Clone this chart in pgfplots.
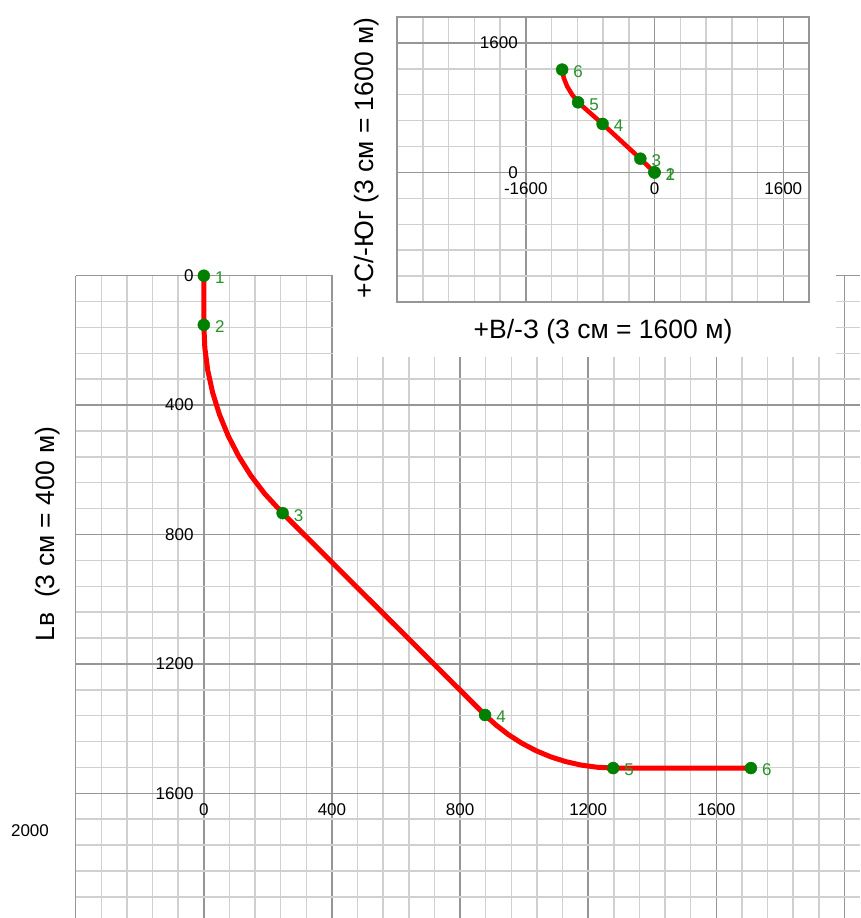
\documentclass[border=0pt]{standalone}
\usepackage{fontspec}
\setmainfont{Liberation Sans}
\usepackage{pgfplots}
\pgfplotsset{compat=1.18}
\definecolor{majgray}{RGB}{150,150,150}
\definecolor{mingray}{RGB}{208,208,208}
\definecolor{ptgreen}{RGB}{0,128,0}
\definecolor{lblgreen}{RGB}{40,145,40}
\begin{document}
\begin{tikzpicture}[x=1pt,y=1pt]
\useasboundingbox (0,0) rectangle (860,918);
% ---------------- main vertical section ----------------
\begin{axis}[
  at={(75.7pt,0pt)}, anchor=south west, scale only axis,
  width=784.3pt, height=642.3pt,
  xmin=-400, xmax=2048.6, ymin=0, ymax=1985.5, y dir=reverse,
  xtick={-400,0,400,800,1200,1600,2000}, xticklabels={,0,400,800,1200,1600,},
  minor xtick={-320,-240,-160,-80,80,160,240,320,480,560,640,720,880,960,1040,1120,1280,1360,1440,1520,1680,1760,1840,1920},
  ytick={0,400,800,1200,1600}, yticklabels={0,400,800,1200,1600},
  minor ytick={80,160,240,320,480,560,640,720,880,960,1040,1120,1280,1360,1440,1520,1680,1760,1840,1920},
  grid=both,
  major grid style={draw=majgray, line width=1.5pt},
  minor grid style={draw=mingray, line width=1.5pt},
  major tick length=0pt, minor tick length=0pt,
  axis line style={draw=none},
  tick label style={font=\fontsize{17}{20}\selectfont, inner sep=0pt},
  yticklabel style={anchor=east, xshift=118pt},
  xticklabel style={anchor=north, yshift=115pt},
  clip=false]
\addplot[draw=red, line width=5pt, line join=round] coordinates {
  (0,0) (0,152) (3.1,222.8) (12.3,293) (27.7,362.1) (49.0,429.7) (76.1,495.2)
  (108.8,558) (146.8,617.8) (190.0,674) (246,734)
  (878,1358) (911.2,1388.1) (950.7,1418.5) (992.7,1445.2) (1036.9,1468.2)
  (1082.9,1487.3) (1130.4,1502.2) (1179.1,1513.0) (1228.4,1519.5) (1278,1522)
  (1708,1522)};
\addplot[only marks, mark=*, mark size=6pt, mark options={fill=ptgreen, draw=ptgreen},
  nodes near coords, point meta=explicit symbolic,
  nodes near coords style={anchor=west, inner sep=0pt, xshift=11pt, yshift=-2pt,
    text=lblgreen, font=\fontsize{17}{20}\selectfont}]
  coordinates {(0,0)[1] (0,152)[2] (246,734)[3] (878,1358)[4] (1278,1522)[5] (1708,1522)[6]};
\end{axis}
% white background of the plan inset
\fill[white] (333,561) rectangle (836,918);
% ---------------- plan inset ----------------
\begin{axis}[
  at={(397pt,616pt)}, anchor=south west, scale only axis,
  width=412pt, height=285pt,
  xmin=-3200, xmax=1920, ymin=-1600, ymax=1920,
  xtick={-3200,-1600,0,1600}, xticklabels={,-1600,0,1600},
  minor xtick={-2880,-2560,-2240,-1920,-1280,-960,-640,-320,320,640,960,1280},
  ytick={-1600,0,1600}, yticklabels={,0,1600},
  minor ytick={-1280,-960,-640,-320,320,640,960,1280},
  grid=both,
  major grid style={draw=majgray, line width=1.5pt},
  minor grid style={draw=mingray, line width=1.5pt},
  major tick length=0pt, minor tick length=0pt,
  axis line style={draw=majgray, line width=1.5pt},
  tick label style={font=\fontsize{17}{20}\selectfont, inner sep=0pt},
  yticklabel style={anchor=east, xshift=121pt},
  xticklabel style={anchor=north, yshift=120pt},
  clip=false]
\addplot[draw=red, line width=4.5pt, line join=round] coordinates {
  (0,0) (-176,170) (-645,599) (-950,866) (-1024,961) (-1086,1064) (-1128,1168) (-1148,1270)};
\addplot[only marks, mark=*, mark size=6pt, mark options={fill=ptgreen, draw=ptgreen},
  nodes near coords, point meta=explicit symbolic,
  nodes near coords style={anchor=west, inner sep=0pt, xshift=11pt, yshift=-2pt,
    text=lblgreen, font=\fontsize{17}{20}\selectfont}]
  coordinates {(0,0)[1] (0,0)[2] (-176,170)[3] (-645,599)[4] (-950,866)[5] (-1148,1270)[6]};
\end{axis}
% axis titles
\node[rotate=90, font=\fontsize{26.5}{30}\selectfont] at (48,384) {Lв\ \ (3 см = 400 м)};
\node[rotate=90, font=\fontsize{26.5}{30}\selectfont] at (367,760) {+С/-Юг (3 см = 1600 м)};
\node[font=\fontsize{26.5}{30}\selectfont] at (603,586) {+В/-З (3 см = 1600 м)};
\node[font=\fontsize{17}{20}\selectfont] at (30,87) {2000};
\end{tikzpicture}
\end{document}
